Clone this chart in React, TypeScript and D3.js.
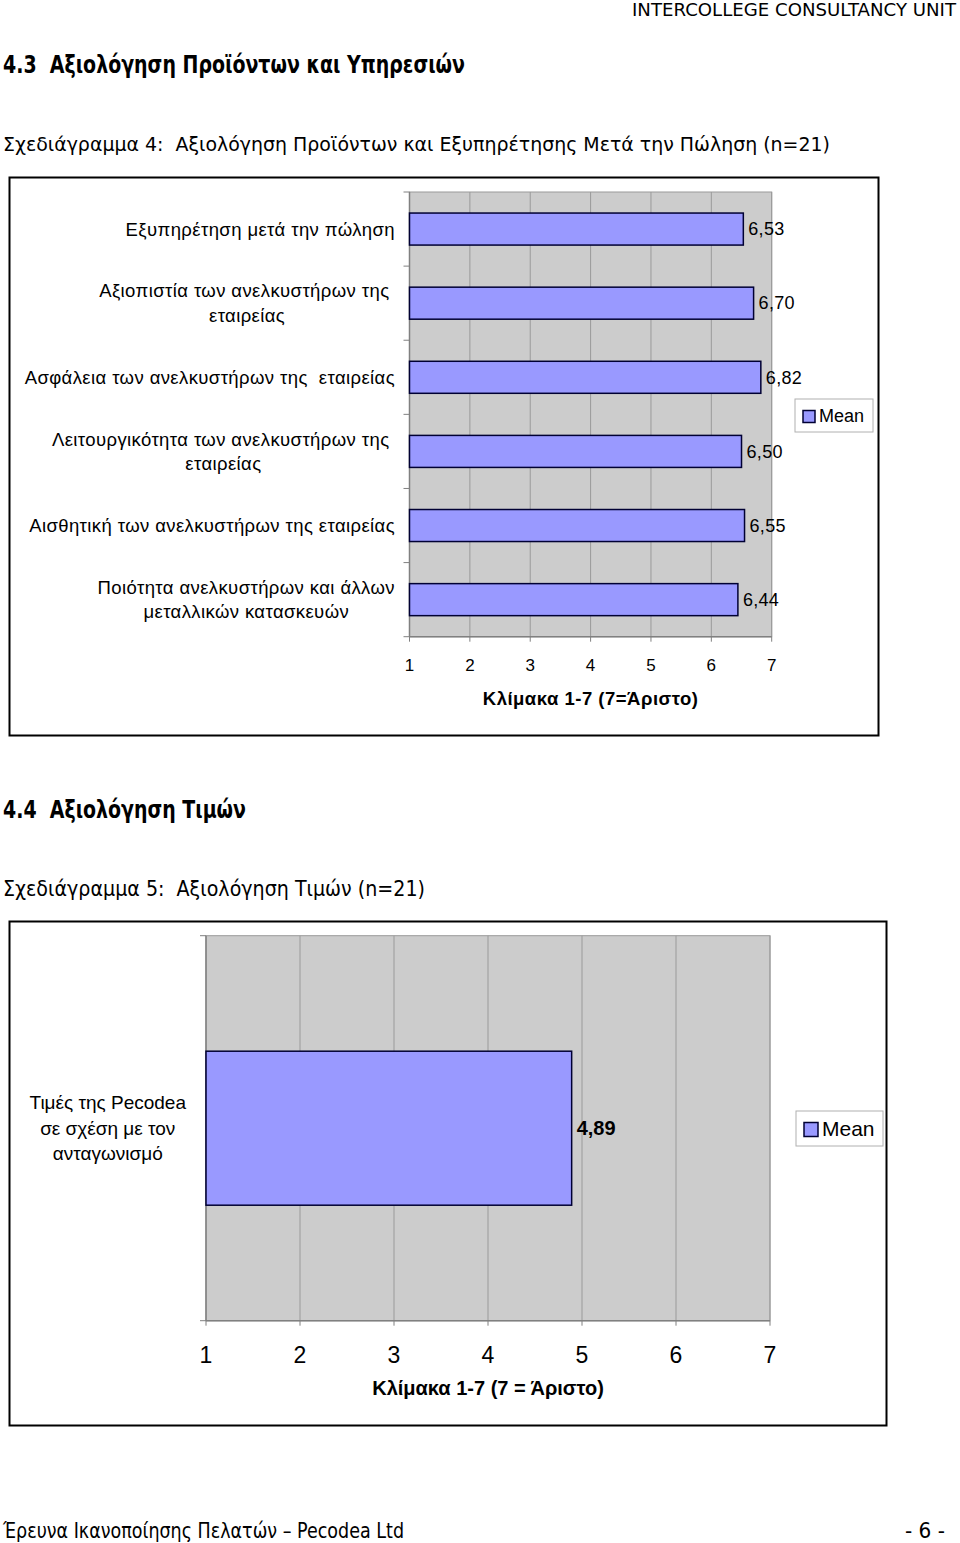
import React, { useEffect, useRef } from "react";
import * as d3 from "d3";

// ---------- DATA ----------
const chart1Categories: string[][] = [
  ["Εξυπηρέτηση μετά την πώληση"],
  ["Αξιοπιστία των ανελκυστήρων της ", "εταιρείας"],
  ["Ασφάλεια των ανελκυστήρων της  εταιρείας"],
  ["Λειτουργικότητα των ανελκυστήρων της ", "εταιρείας"],
  ["Αισθητική των ανελκυστήρων της εταιρείας"],
  ["Ποιότητα ανελκυστήρων και άλλων", "μεταλλικών κατασκευών"],
];
const chart1Values: number[] = [6.53, 6.7, 6.82, 6.5, 6.55, 6.44];

const chart2Categories: string[][] = [["Τιμές της Pecodea", "σε σχέση με τον", "ανταγωνισμό"]];
const chart2Values: number[] = [4.89];

const scaleTicks: number[] = [1, 2, 3, 4, 5, 6, 7];
const seriesName = "Mean";
const chart1AxisTitle = "Κλίμακα 1-7 (7=Άριστο)";
const chart2AxisTitle = "Κλίμακα 1-7 (7 = Άριστο)";

// ---------- STYLE ----------
const BAR_FILL = "#9999FF";
const BAR_STROKE = "#000033";
const PLOT_BG = "#CCCCCC";
const GRID = "#9a9a9a";
const AXIS = "#808080";
const CHART_FONT = "'Liberation Sans', Arial, sans-serif";
const DOC_FONT = "'DejaVu Sans', Verdana, sans-serif";

const fmt = (v: number) => d3.format(".2f")(v).replace(".", ",");

interface ChartCfg {
  frame: [number, number, number, number];
  plot: [number, number, number, number]; // left, top, right, bottom
  categories: string[][];
  values: number[];
  barRatio: number;
  labelRight: number;
  labelFont: number;
  labelSpacing: number;
  labelLine: number;
  valueFont: number;
  valueSpacing: number;
  valueBold: boolean;
  tickFont: number;
  tickLabelY: number;
  axisTitle: string;
  axisTitleFont: number;
  axisTitleSpacing: number;
  axisTitleY: number;
  legend: { x: number; y: number; w: number; h: number; sw: number; font: number };
}

function drawChart(svg: d3.Selection<SVGSVGElement, unknown, null, undefined>, c: ChartCfg) {
  const g = svg.append("g");
  const [pl, pt, pr, pb] = c.plot;

  // frame
  g.append("rect")
    .attr("x", c.frame[0])
    .attr("y", c.frame[1])
    .attr("width", c.frame[2])
    .attr("height", c.frame[3])
    .attr("fill", "#fff")
    .attr("stroke", "#000")
    .attr("stroke-width", 2);

  const x = d3.scaleLinear().domain([1, 7]).range([pl, pr]);
  const y = d3
    .scaleBand<number>()
    .domain(c.values.map((_, i) => i))
    .range([pt, pb])
    .padding(0);

  // plot background
  g.append("rect")
    .attr("x", pl)
    .attr("y", pt)
    .attr("width", pr - pl)
    .attr("height", pb - pt)
    .attr("fill", PLOT_BG)
    .attr("stroke", GRID)
    .attr("stroke-width", 1);

  // gridlines
  g.selectAll(".grid")
    .data(scaleTicks.slice(1))
    .join("line")
    .attr("x1", (d) => x(d))
    .attr("x2", (d) => x(d))
    .attr("y1", pt)
    .attr("y2", pb)
    .attr("stroke", GRID)
    .attr("stroke-width", 1);

  // axes lines
  g.append("line").attr("x1", pl).attr("x2", pl).attr("y1", pt).attr("y2", pb).attr("stroke", AXIS).attr("stroke-width", 1.5);
  g.append("line").attr("x1", pl).attr("x2", pr).attr("y1", pb).attr("y2", pb).attr("stroke", AXIS).attr("stroke-width", 1.5);

  // category ticks (band boundaries)
  const bounds = [...c.values.map((_, i) => y(i) as number), pb];
  g.selectAll(".ctick")
    .data(bounds)
    .join("line")
    .attr("x1", pl - 6)
    .attr("x2", pl)
    .attr("y1", (d) => d)
    .attr("y2", (d) => d)
    .attr("stroke", AXIS);

  // value ticks
  g.selectAll(".vtick")
    .data(scaleTicks)
    .join("line")
    .attr("x1", (d) => x(d))
    .attr("x2", (d) => x(d))
    .attr("y1", pb)
    .attr("y2", pb + 5)
    .attr("stroke", AXIS);

  // bars
  const bw = y.bandwidth() * c.barRatio;
  g.selectAll(".bar")
    .data(c.values)
    .join("rect")
    .attr("x", x(1))
    .attr("y", (_, i) => (y(i) as number) + (y.bandwidth() - bw) / 2)
    .attr("width", (d) => x(d) - x(1))
    .attr("height", bw)
    .attr("fill", BAR_FILL)
    .attr("stroke", BAR_STROKE)
    .attr("stroke-width", 1.5);

  // value labels
  g.selectAll(".vlab")
    .data(c.values)
    .join("text")
    .attr("x", (d) => x(d) + 5)
    .attr("y", (_, i) => (y(i) as number) + y.bandwidth() / 2)
    .attr("dy", "0.35em")
    .attr("font-family", CHART_FONT)
    .attr("font-size", c.valueFont)
    .attr("letter-spacing", c.valueSpacing)
    .attr("font-weight", c.valueBold ? "bold" : "normal")
    .attr("fill", "#000")
    .text((d) => fmt(d));

  // category labels (block right-aligned, lines centered within block)
  c.categories.forEach((lines, i) => {
    const cy = (y(i) as number) + y.bandwidth() / 2;
    const tg = g.append("g");
    const texts = lines.map((ln, j) =>
      tg
        .append("text")
        .attr("x", c.labelRight)
        .attr("y", cy + (j - (lines.length - 1) / 2) * c.labelLine)
        .attr("dy", "0.35em")
        .attr("text-anchor", "middle")
        .attr("font-family", CHART_FONT)
        .attr("font-size", c.labelFont)
        .attr("letter-spacing", c.labelSpacing)
        .style("white-space", "pre")
        .attr("fill", "#000")
        .text(ln)
    );
    const widths = texts.map((t) => (t.node() as SVGTextElement).getComputedTextLength());
    const maxW = d3.max(widths) || 0;
    texts.forEach((t) => t.attr("x", c.labelRight - maxW / 2));
  });

  // tick labels
  g.selectAll(".tlab")
    .data(scaleTicks)
    .join("text")
    .attr("x", (d) => x(d))
    .attr("y", c.tickLabelY)
    .attr("dy", "0.35em")
    .attr("text-anchor", "middle")
    .attr("font-family", CHART_FONT)
    .attr("font-size", c.tickFont)
    .text((d) => String(d));

  // axis title
  g.append("text")
    .attr("x", (pl + pr) / 2)
    .attr("y", c.axisTitleY)
    .attr("dy", "0.35em")
    .attr("text-anchor", "middle")
    .attr("font-family", CHART_FONT)
    .attr("font-size", c.axisTitleFont)
    .attr("letter-spacing", c.axisTitleSpacing)
    .attr("font-weight", "bold")
    .text(c.axisTitle);

  // legend
  const L = c.legend;
  g.append("rect")
    .attr("x", L.x)
    .attr("y", L.y)
    .attr("width", L.w)
    .attr("height", L.h)
    .attr("fill", "#fff")
    .attr("stroke", "#b0b0b0");
  g.append("rect")
    .attr("x", L.x + 8)
    .attr("y", L.y + L.h / 2 - L.sw / 2 + 1)
    .attr("width", L.sw)
    .attr("height", L.sw)
    .attr("fill", BAR_FILL)
    .attr("stroke", BAR_STROKE)
    .attr("stroke-width", 1.5);
  g.append("text")
    .attr("x", L.x + 8 + L.sw + 4)
    .attr("y", L.y + L.h / 2)
    .attr("dy", "0.35em")
    .attr("font-family", CHART_FONT)
    .attr("font-size", L.font)
    .text(seriesName);
}

export default function App() {
  const ref = useRef<SVGSVGElement | null>(null);

  useEffect(() => {
    const svg = d3.select(ref.current as SVGSVGElement);
    svg.selectAll("*").remove();

    svg.append("rect").attr("width", 960).attr("height", 1543).attr("fill", "#fff");

    const docText = (
      txt: string,
      xPos: number,
      yBase: number,
      size: number,
      len: number,
      bold = false
    ) =>
      svg
        .append("text")
        .attr("x", xPos)
        .attr("y", yBase)
        .attr("font-family", DOC_FONT)
        .attr("font-size", size)
        .attr("font-weight", bold ? "bold" : "normal")
        .attr("textLength", len)
        .attr("lengthAdjust", "spacingAndGlyphs")
        .text(txt);

    docText("INTERCOLLEGE CONSULTANCY UNIT", 632, 16, 17, 324);
    docText("4.3\u00A0 Αξιολόγηση Προϊόντων και Υπηρεσιών", 3, 73, 25, 462, true);
    docText("Σχεδιάγραμμα 4:\u00A0 Αξιολόγηση Προϊόντων και Εξυπηρέτησης Μετά την Πώληση (n=21)", 3, 151, 20, 827);
    docText("4.4\u00A0 Αξιολόγηση Τιμών", 3, 818, 25, 243, true);
    docText("Σχεδιάγραμμα 5:\u00A0 Αξιολόγηση Τιμών (n=21)", 3, 896, 22, 422);
    docText("Έρευνα Ικανοποίησης Πελατών – Pecodea Ltd", 3, 1538, 21, 401);
    docText("- 6 -", 905, 1538, 21, 40);

    drawChart(svg, {
      frame: [9.5, 177.5, 869, 558],
      plot: [409.5, 192, 771.7, 636.7],
      categories: chart1Categories,
      values: chart1Values,
      barRatio: 0.432,
      labelRight: 395,
      labelFont: 18.5,
      labelSpacing: 0.4,
      labelLine: 24.5,
      valueFont: 18,
      valueSpacing: 0.3,
      valueBold: false,
      tickFont: 17,
      tickLabelY: 665,
      axisTitle: chart1AxisTitle,
      axisTitleFont: 18.5,
      axisTitleSpacing: 0.5,
      axisTitleY: 699,
      legend: { x: 795, y: 399, w: 78, h: 33, sw: 12, font: 18 },
    });

    drawChart(svg, {
      frame: [9.5, 921.5, 877, 504],
      plot: [206, 935.7, 770, 1320.7],
      categories: chart2Categories,
      values: chart2Values,
      barRatio: 0.4,
      labelRight: 186,
      labelFont: 19,
      labelSpacing: 0,
      labelLine: 25.5,
      valueFont: 20,
      valueSpacing: 0,
      valueBold: true,
      tickFont: 23,
      tickLabelY: 1355,
      axisTitle: chart2AxisTitle,
      axisTitleFont: 20,
      axisTitleSpacing: 0,
      axisTitleY: 1388,
      legend: { x: 796, y: 1111, w: 87, h: 35, sw: 14, font: 21 },
    });
  }, []);

  return (
    <svg
      ref={ref}
      width={960}
      height={1543}
      style={{ position: "absolute", left: 0, top: 0, display: "block" }}
    />
  );
}
